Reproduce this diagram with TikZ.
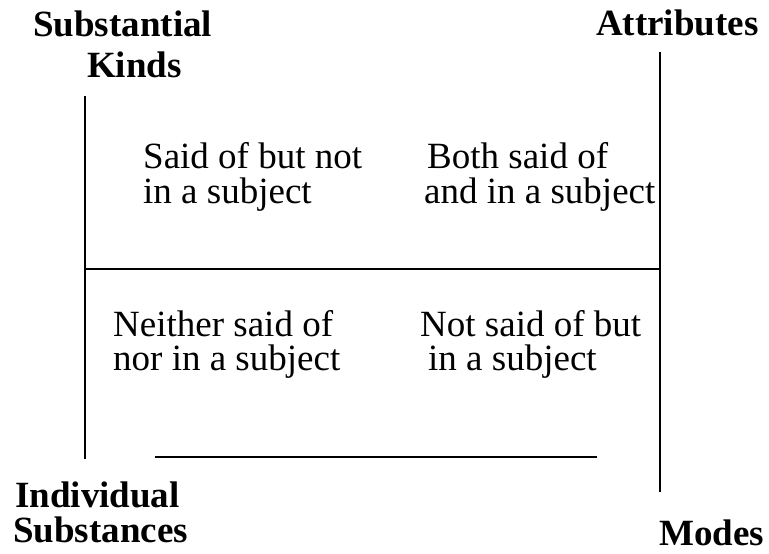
\documentclass[tikz,border=0pt]{standalone}
\usepackage{fontspec}
\setmainfont{Liberation Serif}
\begin{document}
\begin{tikzpicture}[x=1pt,y=-1pt,
  txt/.style={anchor=base west,inner sep=0pt,font=\fontsize{37}{40}\selectfont},
  lbl/.style={anchor=base west,inner sep=0pt,font=\fontsize{37}{40}\selectfont\bfseries},
  rule/.style={line width=2pt}]
\useasboundingbox (0,0) rectangle (769,554);
% corner labels
\node[lbl] (sk1) at (33,36) {Substantial};
\node[lbl] (sk2) at (87,77) {Kinds};
\node[lbl] (at) at (596,35) {Attributes};
\node[lbl] (is1) at (15,507) {Individual};
\node[lbl] (is2) at (13,542) {Substances};
\node[lbl] (md) at (659,545) {Modes};
% quadrant texts
\node[txt] (q1a) at (143,168) {Said of but not};
\node[txt] (q1b) at (143,203) {in a subject};
\node[txt] (q2a) at (427,168) {Both said of};
\node[txt] (q2b) at (424,203) {and in a subject};
\node[txt] (q3a) at (113,336) {Neither said of};
\node[txt] (q3b) at (113,370) {nor in a subject};
\node[txt] (q4a) at (420,336) {Not said of but};
\node[txt] (q4b) at (428,370) {in a subject};
% line ends
\coordinate (lt) at (85,96);
\coordinate (lb) at (85,459);
\coordinate (rt) at (660,52);
\coordinate (rb) at (660,492);
\coordinate (ml) at (85,269);
\coordinate (mr) at (660,269);
\coordinate (bl) at (155,457);
\coordinate (br) at (597,457);
\draw[rule] (lt) -- (lb);
\draw[rule] (rt) -- (rb);
\draw[rule] (ml) -- (mr);
\draw[rule] (bl) -- (br);
\end{tikzpicture}
\end{document}
